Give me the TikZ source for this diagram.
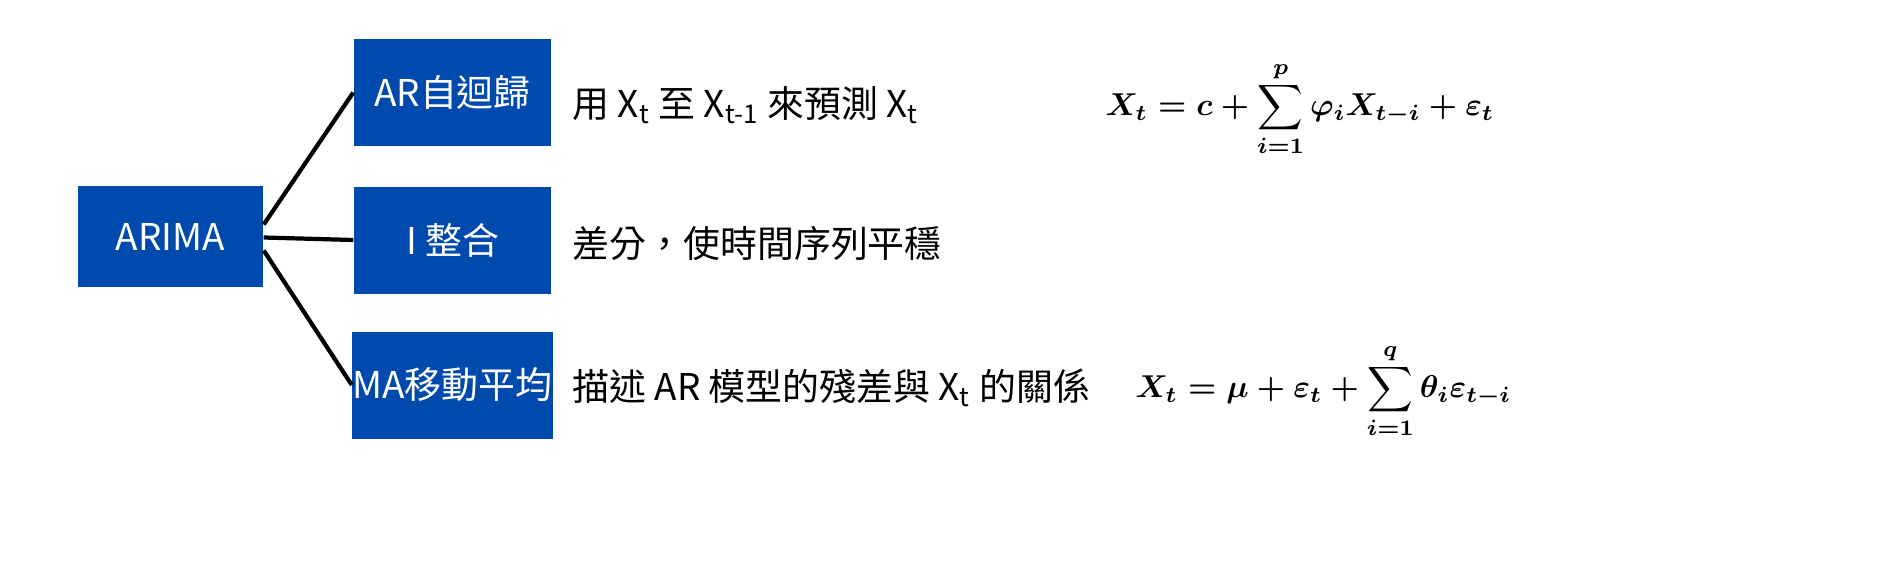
\documentclass[tikz,border=0pt]{standalone}
\usepackage{fontspec}
\setmainfont{Noto Sans CJK TC}
\usepackage{amsmath}
\usetikzlibrary{positioning}
\definecolor{boxblue}{RGB}{0,74,173}
\begin{document}
\begin{tikzpicture}[x=1cm,y=1cm,
  part/.style={fill=boxblue,text=white,minimum width=1.97cm,minimum height=1.07cm,inner sep=0pt,font=\fontsize{10.5}{12}\selectfont},
  desc/.style={anchor=west,inner sep=0pt,font=\fontsize{10.5}{12}\selectfont},
  mathnote/.style={anchor=west,inner sep=0pt,scale=0.9,font=\boldmath},
  link/.style={line width=1.2pt}]
\useasboundingbox (0,0) rectangle (18.96,5.71);
\node[part,minimum width=1.85cm,minimum height=1.01cm] (arima) at (1.705,3.345) {ARIMA};
\node[part] (ar) at (4.525,4.785) {AR自迴歸};
\node[part] (i) at (4.525,3.31) {I 整合};
\node[part] (ma) at (4.525,1.86) {MA移動平均};
\draw[link] (arima.east) ++(0,0.12) -- (ar.west);
\draw[link] (arima.east) ++(0,-0.01) -- (i.west);
\draw[link] (arima.east) ++(0,-0.14) -- (ma.west);
% descriptions
\node[desc] (ardesc) at (5.72,4.66) {用 X\textsubscript{t} 至 X\textsubscript{t-1} 來預測 X\textsubscript{t}};
\node[desc] (idesc) at (5.72,3.28) {差分，使時間序列平穩};
\node[desc] (madesc) at (5.72,1.83) {描述 AR 模型的殘差與 X\textsubscript{t} 的關係};
% formulas
\node[mathnote] (arform) at (11.05,4.62) {$\displaystyle X_t = c + \sum_{i=1}^{p}\varphi_i X_{t-i} + \varepsilon_t$};
\node[mathnote] (maform) at (11.35,1.80) {$\displaystyle X_t = \mu + \varepsilon_t + \sum_{i=1}^{q}\theta_i\varepsilon_{t-i}$};
\end{tikzpicture}
\end{document}
